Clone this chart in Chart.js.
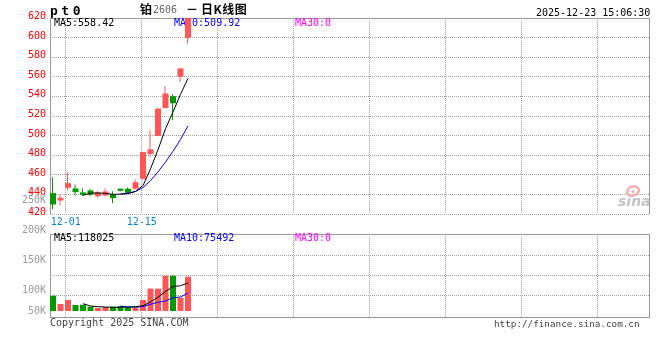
<!DOCTYPE html>
<html><head><meta charset="utf-8">
<script src="https://cdn.jsdelivr.net/npm/chart.js@4.4.1/dist/chart.umd.min.js"></script>
<style>
html,body{margin:0;padding:0;background:#fff;}
#wrap{position:relative;width:660px;height:360px;overflow:hidden;background:#fff;}
canvas{position:absolute;left:0;top:0;}
.t{position:absolute;white-space:nowrap;font-family:"DejaVu Sans Mono",monospace;font-size:10px;line-height:12px;color:#000;}
.cjk{font-family:"Noto Sans CJK SC",sans-serif;font-size:12px;line-height:14px;font-weight:bold;}
</style></head><body>
<div id="wrap">
<canvas id="price" width="660" height="232"></canvas>
<canvas id="vol" width="660" height="360"></canvas>
<div class="t" style="left:50px;top:3px;font-weight:bold;font-size:13px;line-height:15px;letter-spacing:3.5px;">pt0</div>
<div class="t cjk" style="left:140px;top:2px;">铂</div>
<div class="t" style="left:153px;top:4px;color:#666;">2606</div>
<div class="t cjk" style="left:186px;top:2px;">－</div>
<div class="t cjk" style="left:201px;top:2px;letter-spacing:0.5px;">日K线图</div>
<div class="t" style="left:536px;top:7px;">2025-12-23 15:06:30</div>
<div class="t" style="left:50px;top:317px;color:#444;">Copyright 2025 SINA.COM</div>
<div class="t" style="left:494px;top:318px;color:#444;font-size:9.3px;">http://finance.sina.com.cn</div>
</div>
<script>
// ---- data ----
const dates = ['11-27','11-28','12-01','12-02','12-03','12-04','12-05','12-08','12-09','12-10','12-11','12-12','12-15','12-16','12-17','12-18','12-19','12-22','12-23'];
const openP  = [441.3,433.8,446.8,446.1,442.0,444.0,438.2,438.9,440.0,445.8,445.8,445.8,456.0,481.2,499.6,528.2,540.2,560.0,599.8];
const highP  = [457.6,439.6,462.5,450.2,446.4,445.8,443.3,446.1,443.3,446.4,447.1,455.3,483.5,505.4,528.2,550.7,542.3,569.2,625.0];
const lowP   = [424.6,428.7,444.0,438.9,438.6,438.2,436.9,437.9,431.1,443.0,441.0,444.8,455.3,478.1,499.6,528.0,515.7,554.8,594.1];
const closeP = [429.7,436.6,451.5,442.3,439.6,439.6,442.0,443.0,436.2,443.7,441.7,452.5,483.2,486.0,527.5,543.0,533.0,568.5,620.1];
const ma5P   = [null,null,null,null,439.0,441.3,441.5,441.0,440.0,440.3,440.8,443.0,449.0,466.0,485.5,507.0,524.0,542.0,558.42];
const ma10P  = [null,null,null,null,null,null,null,null,null,440.4,441.3,443.0,447.0,454.0,463.0,473.0,484.0,496.0,509.92];
const volumes = [64300,29400,46200,25200,26500,18100,12600,16800,18100,21000,15500,15500,46200,93700,93700,148300,148300,55900,144100];
const ma5V   = [null,null,null,null,30700,21000,18100,16800,15500,15500,16800,18100,22000,38000,58000,82000,102500,106000,118025];
const ma10V  = [null,null,null,null,null,null,null,null,null,21000,16800,16800,18100,28100,36500,42000,55900,58800,75492];
const priceTicks = [420,440,460,480,500,520,540,560,580,600,620];
const xTickLabels = ['12-01','12-15'];
const volTickLabels = ['250K','200K','150K','100K','50K'];
const volTickValues = [250000,200000,150000,100000,50000];
const priceLegend = ['MA5:558.42','MA10:509.92','MA30:0'];
const volLegend = ['MA5:118025','MA10:75492','MA30:0'];

// ---- styles ----
const RED = '#ff5555', GREEN = '#009900', GRID = '#a0a0a0', FRAME = '#999999';
const MONO = '"DejaVu Sans Mono", monospace';
const LEG_COLORS = ['#000000','#0000ff','#ff00ff'];
const LEG_X = [54,174,295];
const up = i => closeP[i] >= openP[i];
const candleColor = c => up(c.dataIndex) ? RED : GREEN;

// x layout: one trading day per 7.5px, gridlines every ~10.13 days
const X_MIN = -0.4, X_MAX = 79.4667;
const gridStart = dates.indexOf(xTickLabels[0]) - 0.3;
const gridStep = 10.133;
const xGrid = [];
for (let k = 0; k < 8; k++) xGrid.push(gridStart + k * gridStep);

function frame(ctx, a) {
  ctx.save();
  ctx.strokeStyle = FRAME; ctx.lineWidth = 1;
  ctx.beginPath();
  ctx.moveTo(50.5, a.bottom); ctx.lineTo(50.5, a.top + 0.5);
  ctx.lineTo(649.5, a.top + 0.5); ctx.lineTo(649.5, a.bottom);
  ctx.stroke();
  ctx.restore();
}
function legend(ctx, texts, y) {
  ctx.save();
  ctx.font = '10px ' + MONO; ctx.textBaseline = 'middle'; ctx.textAlign = 'left';
  texts.forEach((t, i) => { ctx.fillStyle = LEG_COLORS[i]; ctx.fillText(t, LEG_X[i], y); });
  ctx.restore();
}

const common = {
  animation: false, responsive: false, devicePixelRatio: 1, events: [],
  plugins: { legend: { display: false }, tooltip: { enabled: false } }
};

const xAxis = (showLabels, h) => ({
  type: 'linear', min: X_MIN, max: X_MAX, offset: false,
  afterBuildTicks: a => { a.ticks = xGrid.map(v => ({ value: v })); },
  ticks: { display: showLabels, autoSkip: false, maxRotation: 0, padding: 2, color: '#0a7fd0',
           font: { family: MONO, size: 10 }, callback: (v, i) => xTickLabels[i] || '' },
  grid: { color: GRID, drawTicks: false, lineWidth: 1, offset: false },
  border: { display: false, dash: [1, 1] },
  afterFit: a => { a.height = h; }
});

// ---- price panel ----
new Chart(document.getElementById('price'), {
  type: 'bar',
  data: { datasets: [
    { type: 'line', data: dates.map((d, i) => ({ x: i, y: ma5P[i] })), borderColor: '#000', borderWidth: 1,
      pointRadius: 0, tension: 0, spanGaps: false, order: 0 },
    { type: 'line', data: dates.map((d, i) => ({ x: i, y: ma10P[i] })), borderColor: '#0000ff', borderWidth: 1,
      pointRadius: 0, tension: 0, spanGaps: false, order: 0 },
    { data: dates.map((d, i) => ({ x: i, y: [openP[i], closeP[i]] })), backgroundColor: candleColor,
      barThickness: 6, grouped: false, inflateAmount: 0, borderWidth: 0, clip: 0, order: 1 },
    { data: dates.map((d, i) => ({ x: i, y: [lowP[i], highP[i]] })), backgroundColor: candleColor, xAxisID: 'xw',
      barThickness: 1, grouped: false, inflateAmount: 0, borderWidth: 0, clip: 0, order: 2 }
  ]},
  options: Object.assign({}, common, {
    layout: { padding: { top: 18, right: 11, bottom: 0, left: 0 } },
    scales: {
      x: xAxis(true, 18),
      xw: { type: 'linear', display: false, offset: false, grid: { offset: false },
            min: X_MIN + 0.5 / 7.5, max: X_MAX + 0.5 / 7.5 },
      y: { min: 420, max: 620,
           afterBuildTicks: a => { a.ticks = priceTicks.map(v => ({ value: v })); },
           ticks: { color: '#ff0000', font: { family: MONO, size: 10 }, padding: 4, labelOffset: -1.5 },
           grid: { color: GRID, drawTicks: false, lineWidth: 1 },
           border: { display: false, dash: [1, 1] },
           afterFit: a => { a.width = 50; } }
    }
  }),
  plugins: [{
    id: 'priceDeco',
    beforeDatasetsDraw(chart) {
      const ctx = chart.ctx, a = chart.chartArea;
      frame(ctx, a);
      legend(ctx, priceLegend, 23.5);
      // sina watermark
      ctx.save();
      ctx.strokeStyle = '#f6b0b0'; ctx.lineWidth = 2.5;
      ctx.beginPath(); ctx.ellipse(633, 191, 6, 4.5, -0.3, 0, Math.PI * 2); ctx.stroke();
      ctx.fillStyle = '#f6b0b0'; ctx.beginPath(); ctx.arc(633, 191.5, 1.5, 0, Math.PI * 2); ctx.fill();
      ctx.font = 'italic bold 14px "DejaVu Sans", sans-serif';
      ctx.fillStyle = '#c4c4c4'; ctx.textBaseline = 'alphabetic'; ctx.textAlign = 'left';
      ctx.fillText('sina', 618, 206);
      ctx.restore();
    }
  }]
});

// ---- volume panel ----
const VOL_MIN = -29400, VOL_MAX = 323400;
const volGridValues = [65100, 149100, 233100];
new Chart(document.getElementById('vol'), {
  type: 'bar',
  data: { datasets: [
    { type: 'line', data: dates.map((d, i) => ({ x: i, y: ma5V[i] })), borderColor: '#000', borderWidth: 1,
      pointRadius: 0, tension: 0, spanGaps: false, order: 0 },
    { type: 'line', data: dates.map((d, i) => ({ x: i, y: ma10V[i] })), borderColor: '#0000ff', borderWidth: 1,
      pointRadius: 0, tension: 0, spanGaps: false, order: 0 },
    { data: dates.map((d, i) => ({ x: i, y: volumes[i] })), backgroundColor: candleColor,
      barThickness: 6, inflateAmount: 0, borderWidth: 0, clip: 0, order: 1 }
  ]},
  options: Object.assign({}, common, {
    layout: { padding: { top: 234, right: 11, bottom: 42, left: 0 } },
    scales: {
      x: xAxis(false, 0),
      y: { min: VOL_MIN, max: VOL_MAX,
           afterBuildTicks: a => { a.ticks = volGridValues.map(v => ({ value: v })); },
           ticks: { display: false },
           grid: { color: GRID, drawTicks: false, lineWidth: 1 },
           border: { display: false, dash: [1, 1] },
           afterFit: a => { a.width = 50; } },
      yl: { display: false, min: 52970, max: 194070 }
    }
  }),
  plugins: [{
    id: 'volDeco',
    beforeDatasetsDraw(chart) {
      const ctx = chart.ctx, a = chart.chartArea;
      frame(ctx, a);
      ctx.save(); ctx.strokeStyle = FRAME; ctx.lineWidth = 1;
      ctx.beginPath(); ctx.moveTo(50, a.bottom - 0.5); ctx.lineTo(650, a.bottom - 0.5); ctx.stroke();
      ctx.restore();
      legend(ctx, volLegend, 238.5);
      const yl = chart.scales.yl;
      ctx.save();
      ctx.font = '10px ' + MONO; ctx.fillStyle = '#999999'; ctx.textAlign = 'right'; ctx.textBaseline = 'middle';
      volTickValues.forEach((v, i) => {
        const y = Math.min(yl.getPixelForValue(v), a.bottom - 7);
        ctx.fillText(volTickLabels[i], 46, y);
      });
      ctx.restore();
    }
  }]
});
</script>
</body></html>
